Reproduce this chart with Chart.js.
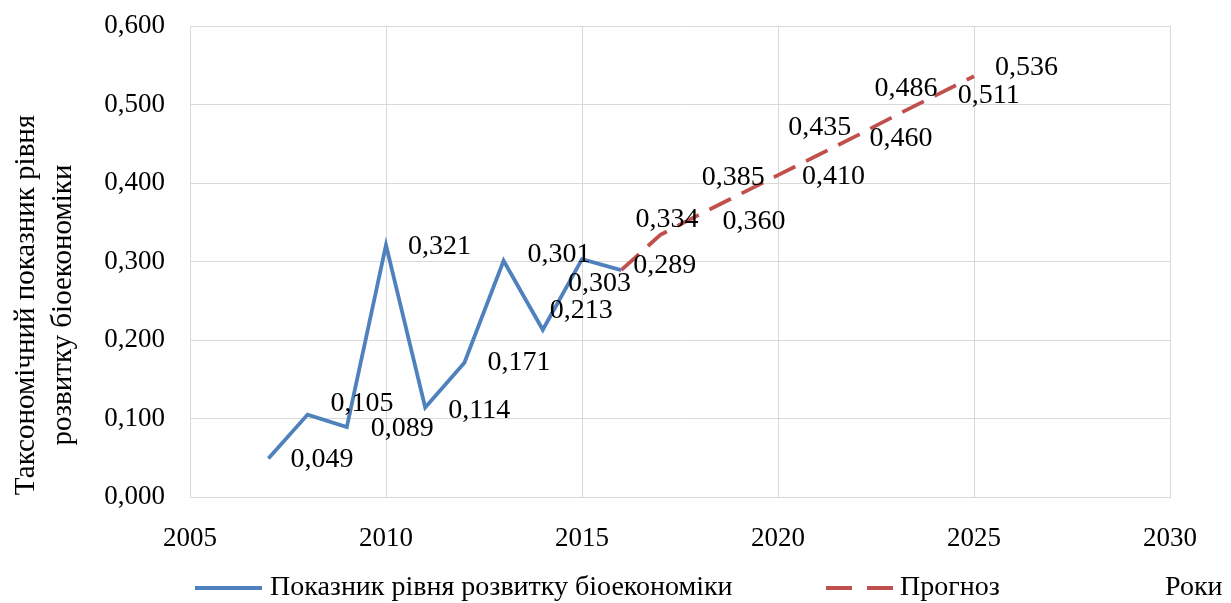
<!DOCTYPE html>
<html>
<head>
<meta charset="utf-8">
<script src="https://cdn.jsdelivr.net/npm/chart.js@4/dist/chart.umd.min.js"></script>
<style>
html,body{margin:0;padding:0;background:#fff;}
canvas{display:block;}
</style>
</head>
<body>
<canvas id="c" width="1231" height="603"></canvas>
<script>
const actualYears = [2007, 2008, 2009, 2010, 2011, 2012, 2013, 2014, 2015, 2016];
const actualValues = [0.049, 0.105, 0.089, 0.321, 0.114, 0.171, 0.301, 0.213, 0.303, 0.289];
const forecastYears = [2016, 2017, 2018, 2019, 2020, 2021, 2022, 2023, 2024, 2025];
const forecastValues = [0.289, 0.334, 0.360, 0.385, 0.410, 0.435, 0.460, 0.486, 0.511, 0.536];
const seriesNames = ['Показник рівня розвитку біоекономіки', 'Прогноз'];
const yTitleLines = ['Таксономічний показник рівня', 'розвитку біоекономіки'];
const xTitle = 'Роки';

const FONT = '"Liberation Serif", "Times New Roman", serif';
const BLUE = '#4F81BD';
const RED = '#C0504D';

// label placement (offset of label's left/center from point), style only
const labelOffsets = [
  [[22,1],[23,-11],[24,2],[22,2],[23,3],[23,0],[24,-6],[7,-19],[-14,24],[12,-4]],
  [null,[-25,-15],[23,7],[-37,-17],[24,1],[-29,-28],[13,3],[-21,-27],[23,0],[21,-9]]
];

const fmt = v => v.toFixed(3).replace('.', ',');

const labelsPlugin = {
  id: 'pointLabels',
  afterDatasetsDraw(chart) {
    const ctx = chart.ctx;
    ctx.save();
    ctx.font = '28px ' + FONT;
    ctx.fillStyle = '#000';
    ctx.textAlign = 'left';
    ctx.textBaseline = 'middle';
    chart.data.datasets.forEach((ds, di) => {
      const meta = chart.getDatasetMeta(di);
      meta.data.forEach((pt, i) => {
        const off = labelOffsets[di][i];
        if (!off) return;
        ctx.fillText(fmt(ds.data[i].y), pt.x + off[0], pt.y + off[1]);
      });
    });
    ctx.restore();
  },
  afterDraw(chart) {
    const ctx = chart.ctx;
    ctx.save();
    // y-axis title
    ctx.font = '29px ' + FONT;
    ctx.fillStyle = '#000';
    ctx.textAlign = 'center';
    ctx.textBaseline = 'middle';
    ctx.translate(0, 305);
    ctx.rotate(-Math.PI / 2);
    ctx.fillText(yTitleLines[0], 0, 26);
    ctx.fillText(yTitleLines[1], 0, 63);
    ctx.restore();

    // legend
    ctx.save();
    const ly = 588;
    ctx.lineWidth = 4;
    ctx.strokeStyle = BLUE;
    ctx.beginPath(); ctx.moveTo(195, ly); ctx.lineTo(262, ly); ctx.stroke();
    ctx.strokeStyle = RED;
    ctx.setLineDash([26, 15]);
    ctx.beginPath(); ctx.moveTo(826, ly); ctx.lineTo(893, ly); ctx.stroke();
    ctx.setLineDash([]);
    ctx.font = '28px ' + FONT;
    ctx.fillStyle = '#000';
    ctx.textAlign = 'left';
    ctx.textBaseline = 'middle';
    ctx.fillText(seriesNames[0], 270, ly);
    ctx.fillText(seriesNames[1], 900, ly);
    ctx.fillText(xTitle, 1165, ly);
    ctx.restore();
  }
};

new Chart(document.getElementById('c'), {
  type: 'line',
  data: {
    datasets: [
      {
        label: seriesNames[0],
        data: actualYears.map((x, i) => ({x, y: actualValues[i]})),
        borderColor: BLUE,
        borderWidth: 3.8,
        pointRadius: 0,
        tension: 0,
        fill: false
      },
      {
        label: seriesNames[1],
        data: forecastYears.map((x, i) => ({x, y: forecastValues[i]})),
        borderColor: RED,
        borderWidth: 3.8,
        borderDash: [24, 12],
        pointRadius: 0,
        tension: 0,
        fill: false
      }
    ]
  },
  options: {
    responsive: false,
    animation: false,
    devicePixelRatio: 1,
    layout: { padding: { top: 26, left: 0, right: 61, bottom: 0 } },
    plugins: { legend: { display: false }, tooltip: { enabled: false } },
    scales: {
      x: {
        type: 'linear',
        min: 2005, max: 2030,
        ticks: {
          stepSize: 5,
          padding: 26,
          color: '#000',
          font: { family: FONT, size: 27 },
          callback: v => String(v)
        },
        grid: { color: '#d9d9d9', lineWidth: 1, drawTicks: false },
        border: { color: '#d9d9d9' },
        afterFit: s => { s.height = 106; s.paddingLeft = 0; s.paddingRight = 0; }
      },
      y: {
        min: 0, max: 0.6,
        ticks: {
          stepSize: 0.1,
          padding: 25,
          color: '#000',
          font: { family: FONT, size: 27 },
          callback: v => fmt(v)
        },
        grid: { color: '#d9d9d9', lineWidth: 1, drawTicks: false },
        border: { color: '#d9d9d9' },
        afterFit: s => { s.width = 190; s.paddingTop = 0; s.paddingBottom = 0; }
      }
    }
  },
  plugins: [labelsPlugin]
});
</script>
</body>
</html>
